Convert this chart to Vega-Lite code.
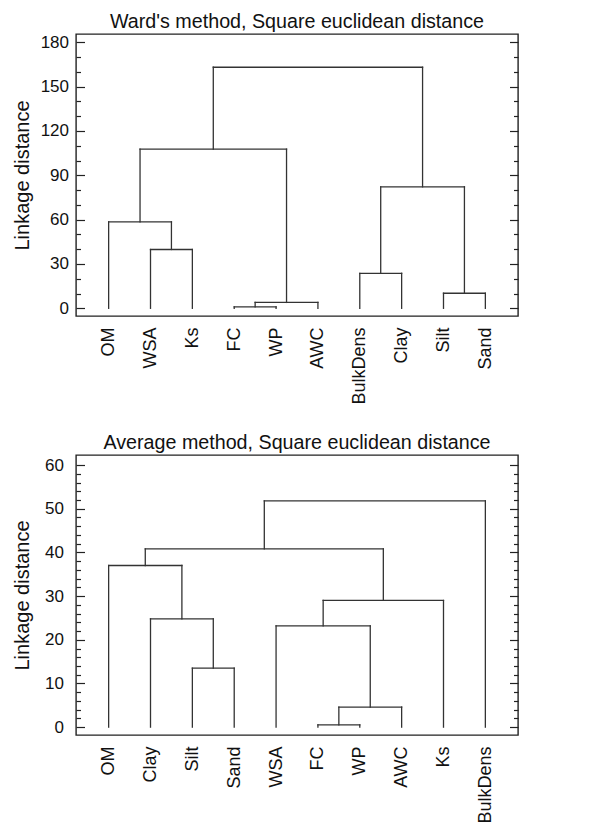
{
  "$schema": "https://vega.github.io/schema/vega-lite/v6.json",
  "padding": {"left": 11, "top": 10, "right": 2, "bottom": 0},
  "spacing": 27,
  "config": {
    "font": "Liberation Sans",
    "view": {"stroke": "#222222", "strokeWidth": 1.4},
    "axis": {"labelFont": "Liberation Sans", "titleFont": "Liberation Sans", "labelColor": "#111111", "titleColor": "#111111", "grid": false}
  },
  "vconcat": [
    {
      "title": {"text": "Ward's method, Square euclidean distance", "font": "Liberation Sans", "fontSize": 19.7, "fontWeight": "normal", "color": "#111111", "offset": 2, "frame": "group", "anchor": "middle"},
      "width": 442,
      "height": 282,
      "layer": [
        {
          "data": {"values": [
            {"leaf": "OM", "low": 0, "high": 58.5},
            {"leaf": "WSA", "low": 0, "high": 39.8},
            {"leaf": "Ks", "low": 0, "high": 39.8},
            {"leaf": "FC", "low": 0, "high": 1.0},
            {"leaf": "WP", "low": 0, "high": 1.0},
            {"leaf": "AWC", "low": 0, "high": 4.0},
            {"leaf": "BulkDens", "low": 0, "high": 23.7},
            {"leaf": "Clay", "low": 0, "high": 23.7},
            {"leaf": "Silt", "low": 0, "high": 10.2},
            {"leaf": "Sand", "low": 0, "high": 10.2}
          ]},
          "mark": {"type": "rule", "color": "#333333", "strokeWidth": 1.3, "strokeCap": "square"},
          "encoding": {
            "x": {"field": "leaf", "type": "nominal", "sort": null, "scale": {"type": "point", "padding": 0.78},
              "axis": {"orient": "bottom", "title": null, "labelAngle": -90, "ticks": false, "domain": false, "labelPadding": 11, "labelFontSize": 18}},
            "y": {"field": "low", "type": "quantitative", "scale": {"domain": [-5.2, 185.6], "nice": false, "zero": false},
              "axis": {"orient": "left", "title": "Linkage distance", "titleFontSize": 20, "titleFontWeight": "normal", "titlePadding": 7.4,
                "values": [0, 10, 20, 30, 40, 50, 60, 70, 80, 90, 100, 110, 120, 130, 140, 150, 160, 170, 180],
                "labelExpr": "datum.value % 30 === 0 ? datum.label : ''",
                "tickSize": {"condition": {"test": "datum.value % 30 === 0", "value": -8.5}, "value": -4.5},
                "labelPadding": 16, "labelFontSize": 17, "labelOverlap": false, "domain": false, "tickColor": "#222222", "tickWidth": 1.2}},
            "y2": {"field": "high"}
          }
        },
        {
          "data": {"values": [
            {"x": 4, "x2": 5, "y": 1.0, "y2": 1.0},
            {"x": 4.5, "x2": 4.5, "y": 1.0, "y2": 4.0},
            {"x": 4.5, "x2": 6, "y": 4.0, "y2": 4.0},
            {"x": 5.25, "x2": 5.25, "y": 4.0, "y2": 107.7},
            {"x": 2, "x2": 3, "y": 39.8, "y2": 39.8},
            {"x": 2.5, "x2": 2.5, "y": 39.8, "y2": 58.5},
            {"x": 1, "x2": 2.5, "y": 58.5, "y2": 58.5},
            {"x": 1.75, "x2": 1.75, "y": 58.5, "y2": 107.7},
            {"x": 1.75, "x2": 5.25, "y": 107.7, "y2": 107.7},
            {"x": 3.5, "x2": 3.5, "y": 107.7, "y2": 163.1},
            {"x": 7, "x2": 8, "y": 23.7, "y2": 23.7},
            {"x": 7.5, "x2": 7.5, "y": 23.7, "y2": 82.2},
            {"x": 9, "x2": 10, "y": 10.2, "y2": 10.2},
            {"x": 9.5, "x2": 9.5, "y": 10.2, "y2": 82.2},
            {"x": 7.5, "x2": 9.5, "y": 82.2, "y2": 82.2},
            {"x": 8.5, "x2": 8.5, "y": 82.2, "y2": 163.1},
            {"x": 3.5, "x2": 8.5, "y": 163.1, "y2": 163.1}
          ]},
          "mark": {"type": "rule", "color": "#333333", "strokeWidth": 1.3, "strokeCap": "square"},
          "encoding": {
            "x": {"field": "x", "type": "quantitative", "scale": {"domain": [0.22, 10.78], "nice": false, "zero": false}, "axis": null},
            "x2": {"field": "x2"},
            "y": {"field": "y", "type": "quantitative", "scale": {"domain": [-5.2, 185.6], "nice": false, "zero": false},
              "axis": {"orient": "right", "title": null, "labels": false,
                "values": [0, 10, 20, 30, 40, 50, 60, 70, 80, 90, 100, 110, 120, 130, 140, 150, 160, 170, 180],
                "tickSize": {"condition": {"test": "datum.value % 30 === 0", "value": -8.5}, "value": -4.5},
                "domain": false, "tickColor": "#222222", "tickWidth": 1.2}},
            "y2": {"field": "y2"}
          }
        }
      ],
      "resolve": {"scale": {"x": "independent"}, "axis": {"y": "independent"}}
    },
    {
      "title": {"text": "Average method, Square euclidean distance", "font": "Liberation Sans", "fontSize": 19.7, "fontWeight": "normal", "color": "#111111", "offset": 2.5, "frame": "group", "anchor": "middle"},
      "width": 442,
      "height": 280,
      "layer": [
        {
          "data": {"values": [
            {"leaf": "OM", "low": 0, "high": 37.0},
            {"leaf": "Clay", "low": 0, "high": 24.8},
            {"leaf": "Silt", "low": 0, "high": 13.5},
            {"leaf": "Sand", "low": 0, "high": 13.5},
            {"leaf": "WSA", "low": 0, "high": 23.2},
            {"leaf": "FC", "low": 0, "high": 0.5},
            {"leaf": "WP", "low": 0, "high": 0.5},
            {"leaf": "AWC", "low": 0, "high": 4.6},
            {"leaf": "Ks", "low": 0, "high": 29.0},
            {"leaf": "BulkDens", "low": 0, "high": 51.8}
          ]},
          "mark": {"type": "rule", "color": "#333333", "strokeWidth": 1.3, "strokeCap": "square"},
          "encoding": {
            "x": {"field": "leaf", "type": "nominal", "sort": null, "scale": {"type": "point", "padding": 0.78},
              "axis": {"orient": "bottom", "title": null, "labelAngle": -90, "ticks": false, "domain": false, "labelPadding": 11, "labelFontSize": 18}},
            "y": {"field": "low", "type": "quantitative", "scale": {"domain": [-1.8, 62.3], "nice": false, "zero": false},
              "axis": {"orient": "left", "title": "Linkage distance", "titleFontSize": 20, "titleFontWeight": "normal", "titlePadding": 12,
                "values": [0, 2, 4, 6, 8, 10, 12, 14, 16, 18, 20, 22, 24, 26, 28, 30, 32, 34, 36, 38, 40, 42, 44, 46, 48, 50, 52, 54, 56, 58, 60],
                "labelExpr": "datum.value % 10 === 0 ? datum.label : ''",
                "tickSize": {"condition": {"test": "datum.value % 10 === 0", "value": -8.5}, "value": -4.5},
                "labelPadding": 21, "labelFontSize": 17, "labelOverlap": false, "domain": false, "tickColor": "#222222", "tickWidth": 1.2}},
            "y2": {"field": "high"}
          }
        },
        {
          "data": {"values": [
            {"x": 6, "x2": 7, "y": 0.5, "y2": 0.5},
            {"x": 6.5, "x2": 6.5, "y": 0.5, "y2": 4.6},
            {"x": 6.5, "x2": 8, "y": 4.6, "y2": 4.6},
            {"x": 7.25, "x2": 7.25, "y": 4.6, "y2": 23.2},
            {"x": 5, "x2": 7.25, "y": 23.2, "y2": 23.2},
            {"x": 6.125, "x2": 6.125, "y": 23.2, "y2": 29.0},
            {"x": 6.125, "x2": 9, "y": 29.0, "y2": 29.0},
            {"x": 7.5625, "x2": 7.5625, "y": 29.0, "y2": 40.8},
            {"x": 3, "x2": 4, "y": 13.5, "y2": 13.5},
            {"x": 3.5, "x2": 3.5, "y": 13.5, "y2": 24.8},
            {"x": 2, "x2": 3.5, "y": 24.8, "y2": 24.8},
            {"x": 2.75, "x2": 2.75, "y": 24.8, "y2": 37.0},
            {"x": 1, "x2": 2.75, "y": 37.0, "y2": 37.0},
            {"x": 1.875, "x2": 1.875, "y": 37.0, "y2": 40.8},
            {"x": 1.875, "x2": 7.5625, "y": 40.8, "y2": 40.8},
            {"x": 4.71875, "x2": 4.71875, "y": 40.8, "y2": 51.8},
            {"x": 4.71875, "x2": 10, "y": 51.8, "y2": 51.8}
          ]},
          "mark": {"type": "rule", "color": "#333333", "strokeWidth": 1.3, "strokeCap": "square"},
          "encoding": {
            "x": {"field": "x", "type": "quantitative", "scale": {"domain": [0.22, 10.78], "nice": false, "zero": false}, "axis": null},
            "x2": {"field": "x2"},
            "y": {"field": "y", "type": "quantitative", "scale": {"domain": [-1.8, 62.3], "nice": false, "zero": false},
              "axis": {"orient": "right", "title": null, "labels": false,
                "values": [0, 2, 4, 6, 8, 10, 12, 14, 16, 18, 20, 22, 24, 26, 28, 30, 32, 34, 36, 38, 40, 42, 44, 46, 48, 50, 52, 54, 56, 58, 60],
                "tickSize": {"condition": {"test": "datum.value % 10 === 0", "value": -8.5}, "value": -4.5},
                "domain": false, "tickColor": "#222222", "tickWidth": 1.2}},
            "y2": {"field": "y2"}
          }
        }
      ],
      "resolve": {"scale": {"x": "independent"}, "axis": {"y": "independent"}}
    }
  ]
}
